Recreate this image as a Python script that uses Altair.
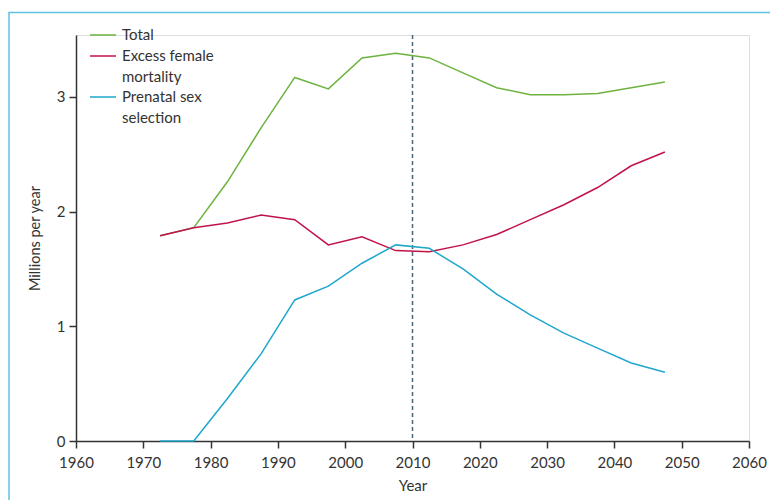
import altair as alt
import pandas as pd

years = [1972.5, 1977.5, 1982.5, 1987.5, 1992.5, 1997.5, 2002.5, 2007.5,
         2012.5, 2017.5, 2022.5, 2027.5, 2032.5, 2037.5, 2042.5, 2047.5]
total = [1.79, 1.86, 2.26, 2.73, 3.17, 3.07, 3.34, 3.38,
         3.34, 3.21, 3.08, 3.02, 3.02, 3.03, 3.08, 3.13]
excess = [1.79, 1.86, 1.90, 1.97, 1.93, 1.71, 1.78, 1.66,
          1.65, 1.71, 1.80, 1.93, 2.06, 2.21, 2.40, 2.52]
prenatal = [0.0, 0.0, 0.37, 0.76, 1.23, 1.35, 1.55, 1.71,
            1.68, 1.50, 1.28, 1.10, 0.94, 0.81, 0.68, 0.60]

series_names = ["Total", "Excess female mortality", "Prenatal sex selection"]
series_colors = ["#6db33f", "#c0134a", "#1ea7cc"]
x_ticks = [1960, 1970, 1980, 1990, 2000, 2010, 2020, 2030, 2040, 2050, 2060]
y_ticks = [0, 1, 2, 3]
ref_year = [2010]
legend_lines = [["Total"], ["Excess female", "mortality"], ["Prenatal sex", "selection"]]

FONT = "Lato"
TXT = "#333333"

rows = []
for name, vals in zip(series_names, [total, excess, prenatal]):
    for yr, v in zip(years, vals):
        rows.append({"year": yr, "value": v, "series": name})
df = pd.DataFrame(rows)

x_enc = alt.X("year:Q",
              scale=alt.Scale(domain=[1960, 2060], nice=False, zero=False),
              axis=alt.Axis(values=x_ticks, format="d", title="Year",
                            grid=False, tickSize=7, labelPadding=7,
                            labelFlush=False, labelOverlap=False,
                            labelFontSize=15, titleFontSize=15,
                            titleFontWeight="normal", titlePadding=8,
                            labelColor=TXT, titleColor=TXT,
                            domainColor=TXT, tickColor=TXT,
                            domainWidth=1.5, tickWidth=1.5,
                            labelFont=FONT, titleFont=FONT))
y_enc = alt.Y("value:Q",
              scale=alt.Scale(domain=[0, 3.54], nice=False),
              axis=alt.Axis(values=y_ticks, format="d", title="Millions per year",
                            grid=False, tickSize=7, labelPadding=4,
                            labelFlush=False,
                            labelFontSize=15, titleFontSize=14.5,
                            titleFontWeight="normal", titlePadding=14,
                            labelColor=TXT, titleColor=TXT,
                            domainColor=TXT, tickColor=TXT,
                            domainWidth=1.5, tickWidth=1.5,
                            labelFont=FONT, titleFont=FONT))

lines = alt.Chart(df).mark_line(strokeWidth=1.5, clip=False).encode(
    x=x_enc, y=y_enc,
    color=alt.Color("series:N",
                    scale=alt.Scale(domain=series_names, range=series_colors),
                    legend=None),
    order=alt.Order("year:Q"),
)

ref = alt.Chart(pd.DataFrame({"year": ref_year})).mark_rule(
    color="#4a6576", strokeWidth=1.5, strokeDash=[4, 3]
).encode(x=alt.X("year:Q", scale=alt.Scale(domain=[1960, 2060], nice=False)))

frame = alt.Chart(pd.DataFrame({"a": [0]})).mark_rect(
    fill=None, stroke="#5bc3dd", strokeWidth=1.5, clip=False
).encode(x=alt.value(-67), x2=alt.value(800), y=alt.value(-22.5), y2=alt.value(600))

legend_layers = []
sym_y = [0, 21, 62]
row_h = 20.8
for i, (name, col, labels) in enumerate(zip(series_names, series_colors, legend_lines)):
    legend_layers.append(
        alt.Chart(pd.DataFrame({"a": [0]})).mark_rule(color=col, strokeWidth=1.5).encode(
            x=alt.value(14), x2=alt.value(40), y=alt.value(sym_y[i]))
    )
    for j, lab in enumerate(labels):
        legend_layers.append(
            alt.Chart(pd.DataFrame({"a": [0]})).mark_text(
                text=lab, align="left", baseline="middle", font=FONT,
                fontSize=15, color=TXT
            ).encode(x=alt.value(46), y=alt.value(sym_y[i] + j * row_h))
        )

chart = alt.layer(frame, ref, lines, *legend_layers).properties(
    width=673, height=406,
    autosize=alt.AutoSizeParams(type="none"),
    padding={"left": 76, "top": 35, "right": 21, "bottom": 59},
).configure_view(stroke=None).configure(background="white")

chart.save("out.html", embed_options={"renderer": "svg", "actions": False})
